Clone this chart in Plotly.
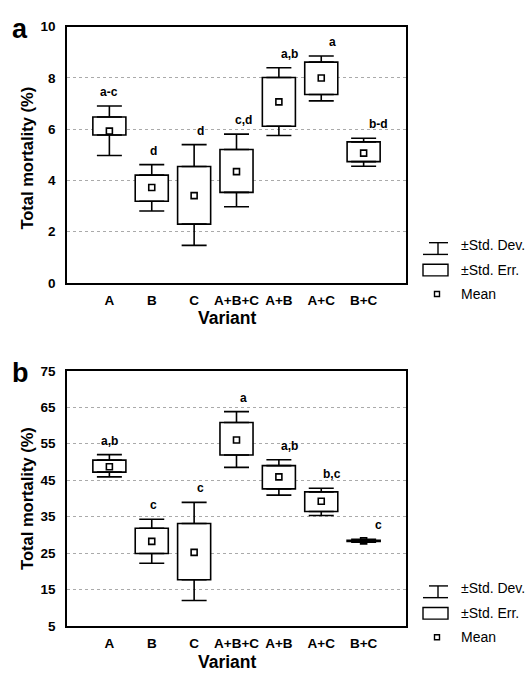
import plotly.graph_objects as go

W, H = 530, 679

categories = ["A", "B", "C", "A+B+C", "A+B", "A+C", "B+C"]

# Panel a (Total mortality %, 0-10)
a_mean    = [5.92, 3.72, 3.40, 4.34, 7.06, 7.99, 5.06]
a_se_low  = [5.77, 3.18, 2.29, 3.53, 6.11, 7.35, 4.73]
a_se_high = [6.47, 4.20, 4.54, 5.20, 8.01, 8.61, 5.50]
a_sd_low  = [4.97, 2.80, 1.46, 2.97, 5.75, 7.10, 4.55]
a_sd_high = [6.90, 4.61, 5.39, 5.80, 8.39, 8.85, 5.64]
a_letters = ["a-c", "d", "d", "c,d", "a,b", "a", "b-d"]
a_ticks = [0, 2, 4, 6, 8, 10]

# Panel b (Total mortality %, 5-75)
b_mean    = [48.7, 28.2, 25.2, 56.0, 45.9, 39.2, 28.35]
b_se_low  = [47.2, 24.9, 17.7, 51.9, 42.6, 36.4, 28.2]
b_se_high = [50.5, 31.8, 33.1, 60.8, 49.0, 41.8, 28.5]
b_sd_low  = [45.9, 22.2, 12.0, 48.5, 40.9, 35.3, 28.0]
b_sd_high = [52.0, 34.3, 38.9, 63.8, 50.6, 42.8, 28.8]
b_letters = ["a,b", "c", "c", "a", "a,b", "b,c", "c"]
b_ticks = [5, 15, 25, 35, 45, 55, 65, 75]

FONT = "Liberation Sans, Arial, sans-serif"
BLK = "black"

def px_x(p): return p / W
def px_y(p): return 1 - p / H

# panel geometry in pixels
L, R = 67, 406
panels = [
    dict(top=20, bot=282, xa="x", ya="y", mean=a_mean, sel=a_se_low, seh=a_se_high,
         sdl=a_sd_low, sdh=a_sd_high, letters=a_letters, ticks=a_ticks, rng=[0, 10],
         label="a", lab_y=22, title_y=155, var_y=318),
    dict(top=372, bot=633, xa="x2", ya="y2", mean=b_mean, sel=b_se_low, seh=b_se_high,
         sdl=b_sd_low, sdh=b_sd_high, letters=b_letters, ticks=b_ticks, rng=[5, 75],
         label="b", lab_y=374, title_y=503, var_y=670),
]

fig = go.Figure()
annotations = []
shapes = []
xshifts = [0, 2, 6, 7, 11, 11, 15]

for i, p in enumerate(panels):
    seh_minus_sel = [h - l for h, l in zip(p["seh"], p["sel"])]
    # SE boxes
    fig.add_trace(go.Bar(x=categories, y=seh_minus_sel, base=p["sel"], width=0.78,
                         marker=dict(color="white", line=dict(color=BLK, width=1.6)),
                         xaxis=p["xa"], yaxis=p["ya"], showlegend=False, hoverinfo="skip"))
    # upper SD whiskers
    fig.add_trace(go.Scatter(x=categories, y=p["seh"], mode="markers",
                             marker=dict(size=1, color="rgba(0,0,0,0)"),
                             error_y=dict(type="data", symmetric=False,
                                          array=[h - s for h, s in zip(p["sdh"], p["seh"])],
                                          arrayminus=[0] * 7, color=BLK, thickness=1.6, width=12.5),
                             xaxis=p["xa"], yaxis=p["ya"], showlegend=False, hoverinfo="skip"))
    # lower SD whiskers
    fig.add_trace(go.Scatter(x=categories, y=p["sel"], mode="markers",
                             marker=dict(size=1, color="rgba(0,0,0,0)"),
                             error_y=dict(type="data", symmetric=False,
                                          array=[0] * 7,
                                          arrayminus=[s - l for s, l in zip(p["sel"], p["sdl"])],
                                          color=BLK, thickness=1.6, width=12.5),
                             xaxis=p["xa"], yaxis=p["ya"], showlegend=False, hoverinfo="skip"))
    # means
    fig.add_trace(go.Scatter(x=categories, y=p["mean"], mode="markers",
                             marker=dict(symbol="square-open", size=6, color=BLK,
                                         line=dict(width=1.6, color=BLK)),
                             xaxis=p["xa"], yaxis=p["ya"], showlegend=False, hoverinfo="skip"))
    # letters
    for j, (c, t, yv) in enumerate(zip(categories, p["letters"], p["sdh"])):
        annotations.append(dict(x=c, y=yv, xref=p["xa"], yref=p["ya"], text="<b>%s</b>" % t,
                                showarrow=False, yshift=14, xshift=xshifts[j],
                                font=dict(family=FONT, size=12, color=BLK),
                                xanchor="center", yanchor="middle"))
    # panel label
    annotations.append(dict(x=px_x(20), y=px_y(p["lab_y"]), xref="paper", yref="paper",
                            text="<b>%s</b>" % p["label"], showarrow=False,
                            font=dict(family=FONT, size=27, color=BLK),
                            xanchor="center", yanchor="middle"))
    # y title
    annotations.append(dict(x=px_x(27), y=px_y(p["title_y"]), xref="paper", yref="paper",
                            text="<b>Total mortality (%)</b>", showarrow=False, textangle=-90,
                            font=dict(family=FONT, size=16.5, color=BLK),
                            xanchor="center", yanchor="middle"))
    # x title
    annotations.append(dict(x=px_x(227), y=px_y(p["var_y"]), xref="paper", yref="paper",
                            text="<b>Variant</b>", showarrow=False,
                            font=dict(family=FONT, size=17.5, color=BLK),
                            xanchor="center", yanchor="middle"))
    # legend
    b = p["bot"]
    lxm = 437
    shapes += [
        dict(type="line", xref="paper", yref="paper", x0=px_x(429), x1=px_x(448),
             y0=px_y(b - 41), y1=px_y(b - 41), line=dict(color=BLK, width=1.4)),
        dict(type="line", xref="paper", yref="paper", x0=px_x(438), x1=px_x(438),
             y0=px_y(b - 41), y1=px_y(b - 29), line=dict(color=BLK, width=1.4)),
        dict(type="line", xref="paper", yref="paper", x0=px_x(423), x1=px_x(448),
             y0=px_y(b - 29), y1=px_y(b - 29), line=dict(color=BLK, width=1.4)),
        dict(type="rect", xref="paper", yref="paper", x0=px_x(423), x1=px_x(448),
             y0=px_y(b - 19), y1=px_y(b - 7), line=dict(color=BLK, width=1.4)),
        dict(type="rect", xref="paper", yref="paper", x0=px_x(lxm - 2.5), x1=px_x(lxm + 2.5),
             y0=px_y(b + 9), y1=px_y(b + 14), line=dict(color=BLK, width=1.4)),
    ]
    for txt, dy in [("±Std. Dev.", -39), ("±Std. Err.", -13), ("Mean", 11)]:
        annotations.append(dict(x=px_x(459), y=px_y(b + dy), xref="paper", yref="paper",
                                text=txt, showarrow=False,
                                font=dict(family=FONT, size=14, color=BLK),
                                xanchor="left", yanchor="middle"))

axis_common_x = dict(type="category", categoryorder="array", categoryarray=categories,
                     range=[-1, 7], showline=True, mirror=True, linecolor=BLK, linewidth=1.6,
                     showgrid=False, zeroline=False, ticks="", ticklabelstandoff=4,
                     tickfont=dict(family=FONT, size=13.5, color=BLK, weight="bold"),
                     fixedrange=True)

def yaxis(p):
    return dict(range=p["rng"], tickvals=p["ticks"], showline=True, mirror=True,
                linecolor=BLK, linewidth=1.6, showgrid=True, gridcolor="#aaaaaa",
                griddash="dot", gridwidth=1, zeroline=False, ticks="",
                ticklabelstandoff=7,
                tickfont=dict(family=FONT, size=13.5, color=BLK, weight="bold"),
                domain=[px_y(p["bot"]), px_y(p["top"])])

fig.update_layout(
    width=W, height=H, margin=dict(l=0, r=0, t=0, b=0),
    paper_bgcolor="white", plot_bgcolor="white",
    xaxis=dict(axis_common_x, domain=[px_x(L), px_x(R)], anchor="y"),
    yaxis=dict(yaxis(panels[0]), anchor="x"),
    xaxis2=dict(axis_common_x, domain=[px_x(L), px_x(R)], anchor="y2"),
    yaxis2=dict(yaxis(panels[1]), anchor="x2"),
    annotations=annotations, shapes=shapes, barmode="overlay", showlegend=False,
)

fig.write_html("out.html")
